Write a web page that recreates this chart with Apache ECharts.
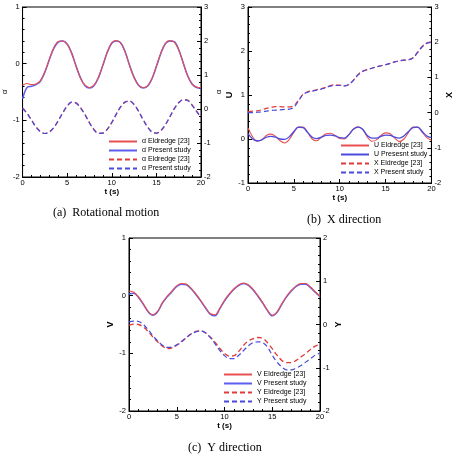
<!DOCTYPE html>
<html><head><meta charset="utf-8">
<script src="https://cdn.jsdelivr.net/npm/echarts@6/dist/echarts.min.js"></script>
<style>html,body{margin:0;padding:0;background:#fff}#c{width:455px;height:456px}</style>
</head><body><div id="c"></div>
<script>
const t = [0,0.5,1,1.5,2,2.5,3,3.5,4,4.5,5,5.5,6,6.5,7,7.5,8,8.5,9,9.5,10,10.5,11,11.5,12,12.5,13,13.5,14,14.5,15,15.5,16,16.5,17,17.5,18,18.5,19,19.5,20];
const xTicks = [0,5,10,15,20];

// (a) rotational motion
const alphaDotEld = [-0.38,-0.35,-0.37,-0.36,-0.30,-0.14,0.08,0.28,0.39,0.40,0.34,0.18,-0.05,-0.26,-0.38,-0.42,-0.38,-0.24,-0.02,0.21,0.37,0.41,0.36,0.20,-0.04,-0.25,-0.38,-0.42,-0.39,-0.26,-0.04,0.19,0.36,0.41,0.38,0.24,0.01,-0.22,-0.36,-0.41,-0.42];
const alphaDotPres = [-0.62,-0.42,-0.40,-0.37,-0.31,-0.15,0.07,0.27,0.38,0.40,0.35,0.19,-0.04,-0.25,-0.39,-0.43,-0.39,-0.25,-0.03,0.20,0.36,0.40,0.37,0.21,-0.03,-0.24,-0.38,-0.43,-0.40,-0.27,-0.05,0.18,0.35,0.40,0.39,0.25,0.02,-0.21,-0.36,-0.42,-0.43];
const alphaEld = [0.03,-0.12,-0.32,-0.52,-0.66,-0.72,-0.68,-0.55,-0.35,-0.12,0.08,0.20,0.18,0.04,-0.16,-0.40,-0.60,-0.71,-0.71,-0.60,-0.40,-0.16,0.06,0.20,0.24,0.14,-0.06,-0.30,-0.52,-0.67,-0.71,-0.64,-0.47,-0.24,0.00,0.18,0.27,0.26,0.12,-0.06,-0.24];
const alphaPres = [0.02,-0.13,-0.33,-0.53,-0.67,-0.72,-0.67,-0.54,-0.34,-0.11,0.09,0.20,0.17,0.03,-0.17,-0.41,-0.61,-0.72,-0.71,-0.59,-0.39,-0.15,0.07,0.21,0.23,0.13,-0.07,-0.31,-0.53,-0.68,-0.71,-0.63,-0.46,-0.23,0.01,0.19,0.27,0.25,0.11,-0.07,-0.25];

// (b) X direction
const uEld = [0.25,0.05,-0.05,-0.02,0.08,0.11,0.06,-0.04,-0.09,-0.01,0.15,0.27,0.27,0.15,0.00,-0.04,0.04,0.12,0.13,0.08,0.01,0.00,0.10,0.23,0.28,0.22,0.05,-0.05,-0.02,0.08,0.14,0.12,0.02,-0.06,0.00,0.15,0.27,0.27,0.15,0.03,-0.03];
const uPres = [0.12,0.00,-0.04,-0.02,0.04,0.06,0.04,0.00,-0.01,0.05,0.17,0.27,0.26,0.15,0.04,0.01,0.04,0.08,0.09,0.07,0.03,0.02,0.10,0.22,0.27,0.22,0.08,0.02,0.02,0.06,0.09,0.08,0.04,0.02,0.07,0.17,0.26,0.27,0.17,0.07,0.03];
const xEld = [0.03,0.04,0.05,0.08,0.12,0.15,0.17,0.17,0.16,0.16,0.20,0.35,0.52,0.59,0.62,0.65,0.68,0.72,0.77,0.79,0.78,0.76,0.80,0.92,1.08,1.18,1.22,1.26,1.30,1.33,1.36,1.40,1.44,1.47,1.49,1.50,1.56,1.72,1.88,1.98,2.00];
const xPres = [0.00,0.00,0.01,0.02,0.04,0.06,0.07,0.08,0.09,0.10,0.15,0.33,0.51,0.58,0.61,0.64,0.67,0.71,0.75,0.77,0.77,0.76,0.80,0.92,1.07,1.17,1.22,1.26,1.30,1.33,1.36,1.40,1.44,1.47,1.49,1.50,1.55,1.71,1.87,1.97,2.00];

// (c) Y direction
const vEld = [0.08,0.06,-0.02,-0.14,-0.27,-0.33,-0.27,-0.12,-0.01,0.08,0.17,0.21,0.20,0.13,0.03,-0.08,-0.20,-0.31,-0.33,-0.22,-0.08,0.03,0.12,0.19,0.22,0.19,0.11,0.00,-0.12,-0.25,-0.34,-0.28,-0.14,-0.01,0.09,0.17,0.21,0.21,0.15,0.07,-0.01];
const vPres = [0.03,0.04,-0.03,-0.15,-0.28,-0.34,-0.28,-0.13,-0.02,0.07,0.16,0.20,0.19,0.12,0.02,-0.09,-0.21,-0.32,-0.35,-0.23,-0.09,0.02,0.11,0.18,0.21,0.18,0.10,-0.01,-0.13,-0.26,-0.35,-0.29,-0.15,-0.02,0.08,0.16,0.20,0.20,0.14,0.06,-0.02];
const yEld = [-0.02,0.01,0.00,-0.06,-0.16,-0.29,-0.40,-0.50,-0.56,-0.54,-0.48,-0.40,-0.31,-0.22,-0.16,-0.15,-0.19,-0.29,-0.41,-0.55,-0.67,-0.73,-0.72,-0.62,-0.48,-0.38,-0.33,-0.30,-0.32,-0.42,-0.56,-0.71,-0.83,-0.88,-0.88,-0.83,-0.75,-0.67,-0.58,-0.50,-0.46];
const yPres = [0.06,0.08,0.07,0.00,-0.12,-0.26,-0.38,-0.48,-0.53,-0.52,-0.47,-0.39,-0.30,-0.22,-0.17,-0.15,-0.19,-0.30,-0.44,-0.60,-0.72,-0.79,-0.79,-0.71,-0.60,-0.49,-0.42,-0.40,-0.42,-0.52,-0.71,-0.87,-0.98,-1.05,-1.05,-1.01,-0.95,-0.87,-0.79,-0.71,-0.66];

const RED = '#e03a3a', BLUE = '#4a4ade', RED_S = '#e85050', BLUE_S = '#5c5cee';
const pairs = a => t.map((x,i)=>[x,a[i]]);
const FONT = 'Liberation Sans';

function xAx(grid){
  return {type:'value', gridIndex:grid, min:0, max:20, interval:5,
    name:'t (s)', nameLocation:'middle', nameGap:7,
    nameTextStyle:{fontFamily:FONT, fontSize:8, fontWeight:'bold', color:'#000'},
    axisLine:{onZero:false, lineStyle:{color:'#000', width:1}},
    axisTick:{inside:true, length:4, lineStyle:{color:'#000'}},
    minorTick:{show:true, splitNumber:5, length:2, lineStyle:{color:'#000'}},
    axisLabel:{fontFamily:FONT, fontSize:7.5, color:'#000', margin:2},
    splitLine:{show:false}};
}
function yAx(grid, pos, min, max, name, bold, gap){
  return {type:'value', gridIndex:grid, position:pos, min:min, max:max, interval:1,
    name:name, nameLocation:'middle', nameGap:gap, nameRotate:90,
    nameTextStyle:{fontFamily:FONT, fontSize: bold?9:8, fontWeight: bold?'bold':'normal', color:'#000'},
    axisLine:{show:true, onZero:false, lineStyle:{color:'#000', width:1}},
    axisTick:{inside:true, length:4, lineStyle:{color:'#000'}},
    minorTick:{show:true, splitNumber:5, length:2, lineStyle:{color:'#000'}},
    axisLabel:{fontFamily:FONT, fontSize:7.5, color:'#000', margin:3},
    splitLine:{show:false}};
}
function ser(name, xi, yi, data, color, dashed, w){
  return {name:name, type:'line', xAxisIndex:xi, yAxisIndex:yi, data:pairs(data),
    smooth:0.35, symbol:'none', showSymbol:false,
    lineStyle:{color:color, width:w||1.2, type: dashed?[5,3]:'solid'},
    itemStyle:{color:color}};
}
function leg(names, left, top){
  return {orient:'vertical', left:left, top:top, data:names, itemWidth:28, itemHeight:6, itemGap:2,
    padding:0, selectedMode:false, itemStyle:{opacity:0, borderWidth:0},
    textStyle:{fontFamily:FONT, fontSize:7, color:'#000', lineHeight:6}};
}

const chart = echarts.init(document.getElementById('c'), null, {renderer:'canvas'});
chart.setOption({
  animation:false,
  backgroundColor:'#fff',
  grid:[
    {left:16, top:7, width:185, height:170, show:true, borderColor:'#000', borderWidth:1, backgroundColor:'transparent'},
    {left:248, top:7, width:190, height:176, show:true, borderColor:'#000', borderWidth:1, backgroundColor:'transparent'},
    {left:129, top:238, width:191, height:173, show:true, borderColor:'#000', borderWidth:1, backgroundColor:'transparent'}
  ],
  xAxis:[xAx(0), xAx(1), xAx(2)],
  yAxis:[
    yAx(0,'left',-2,1,'\u03b1\u0307',false,11),
    yAx(0,'right',-2,3,'\u03b1',false,11),
    yAx(1,'left',-1,3,'U',true,10),
    yAx(1,'right',-2,3,'X',true,11),
    yAx(2,'left',-2,1,'V',true,13),
    yAx(2,'right',-2,2,'Y',true,11)
  ],
  legend:[
    leg(['\u03b1\u0307 Eldredge [23]','\u03b1\u0307 Present study','\u03b1 Eldredge [23]','\u03b1 Present study'],108,138),
    leg(['U Eldredge [23]','U Presesnt study','X Eldredge [23]','X Present study'],340,142),
    leg(['V Eldredge [23]','V Present study','Y Eldredge [23]','Y Present study'],223,371)
  ],
  series:[
    ser('\u03b1\u0307 Present study',0,0,alphaDotPres,BLUE_S,false,1.5),
    ser('\u03b1\u0307 Eldredge [23]',0,0,alphaDotEld,RED_S,false,1.1),
    ser('\u03b1 Eldredge [23]',0,1,alphaEld,RED,true,1.2),
    ser('\u03b1 Present study',0,1,alphaPres,BLUE,true,1.2),
    ser('U Eldredge [23]',1,2,uEld,RED_S,false,1.1),
    ser('U Presesnt study',1,2,uPres,BLUE,false,1.3),
    ser('X Eldredge [23]',1,3,xEld,RED,true,1.2),
    ser('X Present study',1,3,xPres,BLUE,true,1.2),
    ser('V Present study',2,4,vPres,BLUE_S,false,1.5),
    ser('V Eldredge [23]',2,4,vEld,RED_S,false,1.1),
    ser('Y Eldredge [23]',2,5,yEld,RED,true,1.3),
    ser('Y Present study',2,5,yPres,BLUE,true,1.2)
  ],
  graphic:[
    {type:'text', left:53, top:207, style:{text:'(a)  Rotational motion', font:'12px "Liberation Serif"', fill:'#000'}},
    {type:'text', left:307, top:214, style:{text:'(b)  X direction', font:'12px "Liberation Serif"', fill:'#000'}},
    {type:'text', left:188, top:442, style:{text:'(c)  Y direction', font:'12px "Liberation Serif"', fill:'#000'}}
  ]
});
</script></body></html>
